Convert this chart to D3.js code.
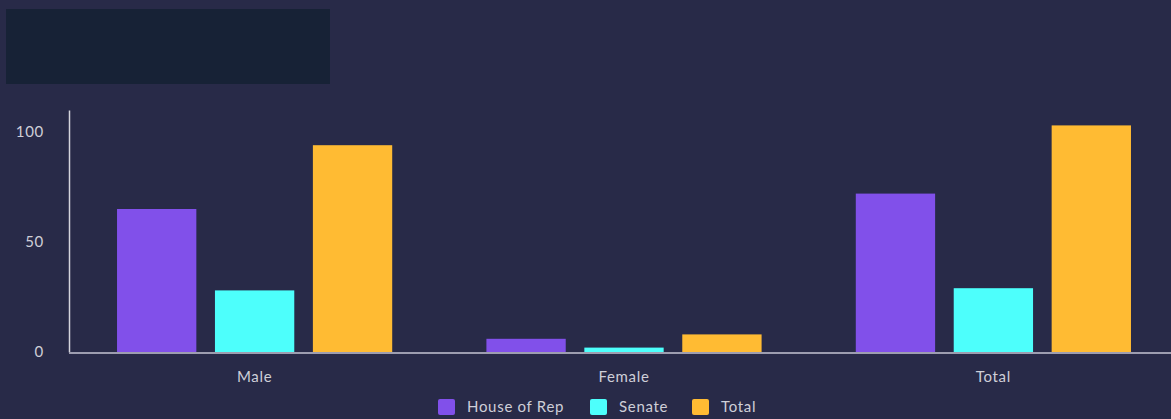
<!DOCTYPE html>
<html>
<head>
<meta charset="utf-8">
<script src="https://cdn.jsdelivr.net/npm/d3@7/dist/d3.min.js"></script>
<style>
  html, body { margin: 0; padding: 0; background: #282a48; }
  svg { display: block; }
  text { letter-spacing: 0.7px; }
</style>
</head>
<body>
<svg id="chart" width="1171" height="419"></svg>
<script>
// Members by gender in each chamber
const categories = ["Male", "Female", "Total"];
const seriesNames = ["House of Rep", "Senate", "Total"];
const houseOfRep = [65, 6, 72];
const senate = [28, 2, 29];
const total = [94, 8, 103];
const yTicks = [0, 50, 100];
const colors = ["#8150ea", "#4dfffc", "#ffbb33"];

const seriesValues = [houseOfRep, senate, total];
const rows = categories.map((c, i) => ({
  category: c,
  values: seriesNames.map((s, j) => ({ key: s, idx: j, value: seriesValues[j][i] }))
}));

const svg = d3.select("#chart");
const W = 1171, H = 419;
const font = "Lato, 'Open Sans', sans-serif";
const fontSize = 15;
const textColor = "#cfcfd8";

svg.append("rect").attr("width", W).attr("height", H).attr("fill", "#282a48");

// Title placeholder panel
svg.append("rect")
  .attr("x", 6).attr("y", 9).attr("width", 324).attr("height", 75)
  .attr("fill", "#172236");

const left = 69, baseline = 352;
const x0 = d3.scaleBand().domain(categories).range([left, 1179])
  .paddingInner(0.255).paddingOuter(0.13);
const x1 = d3.scaleBand().domain(seriesNames).range([0, x0.bandwidth()])
  .paddingInner(0.19);
const y = d3.scaleLinear().domain([0, 110]).range([baseline, 110]);

// Bars
const groups = svg.append("g").selectAll("g").data(rows).join("g")
  .attr("transform", d => `translate(${x0(d.category)},0)`);
groups.selectAll("rect").data(d => d.values).join("rect")
  .attr("x", d => x1(d.key))
  .attr("y", d => y(d.value))
  .attr("width", x1.bandwidth())
  .attr("height", d => baseline - y(d.value))
  .attr("fill", d => colors[d.idx]);

// Y axis
const yAxis = svg.append("g").attr("transform", `translate(${left},0)`)
  .call(d3.axisLeft(y).tickValues(yTicks).tickSize(0).tickPadding(25));
yAxis.select(".domain").attr("stroke", "#d4d4dc").attr("stroke-width", 1.5);
yAxis.selectAll("text").attr("fill", textColor).attr("font-size", fontSize)
  .attr("font-family", font);

// X axis
const xAxis = svg.append("g").attr("transform", `translate(0,${baseline + 1})`)
  .call(d3.axisBottom(x0).tickSize(0).tickPadding(18));
xAxis.select(".domain").attr("d", `M${left},0H${W}`)
  .attr("stroke", "#9d9db0").attr("stroke-width", 2);
xAxis.selectAll("text").attr("fill", textColor).attr("font-size", fontSize)
  .attr("font-family", font);

// Legend
const legendItems = [
  { name: seriesNames[0], x: 438 },
  { name: seriesNames[1], x: 590 },
  { name: seriesNames[2], x: 692 }
];
const legend = svg.append("g").selectAll("g").data(legendItems).join("g")
  .attr("transform", d => `translate(${d.x},399)`);
legend.append("rect").attr("width", 17).attr("height", 16).attr("rx", 2)
  .attr("fill", (d, i) => colors[i]);
legend.append("text").attr("x", 29).attr("y", 13)
  .attr("fill", textColor).attr("font-size", fontSize).attr("font-family", font)
  .text(d => d.name);
</script>
</body>
</html>
